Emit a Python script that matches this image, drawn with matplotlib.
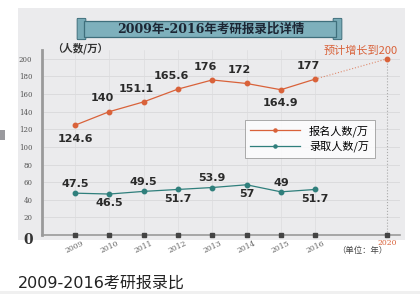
import numpy as np
import matplotlib.pyplot as plt
from matplotlib.patches import FancyBboxPatch, Rectangle

plt.rcParams['font.family'] = ['Noto Sans CJK SC', 'DejaVu Sans']

years = ['2009', '2010', '2011', '2012', '2013', '2014', '2015', '2016']
applicants = [124.6, 140, 151.1, 165.6, 176, 172, 164.9, 177]
admitted = [47.5, 46.5, 49.5, 51.7, 53.9, 57, 49, 51.7]
forecast_year = '2020'
forecast_value = 200
y_ticks = [20, 40, 60, 80, 100, 120, 140, 160, 180, 200]

# label side for each point: 1 above, -1 below
app_side = [-1, 1, 1, 1, 1, 1, -1, 1]
adm_side = [1, -1, 1, -1, 1, -1, 1, -1]

orange = '#d9623a'
teal = '#2f7f7c'

fig = plt.figure(figsize=(4.2, 2.94), dpi=100)
fig.patch.set_facecolor('white')

def px_box(x0, y0, w, h, **kw):
    # rectangle given in pixel coords from top-left of the image
    return Rectangle((x0 / 420, 1 - (y0 + h) / 294), w / 420, h / 294,
                     transform=fig.transFigure, **kw)

# gray panel behind the chart
fig.add_artist(px_box(18, 8, 387, 232, facecolor='#ebebed', edgecolor='none', zorder=0))
# small gray mark at the left edge
fig.add_artist(px_box(0, 130, 5, 10, facecolor='#9a9a9e', edgecolor='none', zorder=0))
# thin line under the caption
fig.add_artist(px_box(0, 291, 420, 3, facecolor='#f0f0f0', edgecolor='none', zorder=0))

# title scroll
for sx in (78, 334):
    fig.add_artist(FancyBboxPatch((sx / 420, 1 - 39 / 294), 7 / 420, 20 / 294,
                                  boxstyle='round,pad=0.002', transform=fig.transFigure,
                                  facecolor='#78aab6', edgecolor='#3f6f7c',
                                  linewidth=0.7, zorder=1))
fig.add_artist(px_box(84, 21, 252, 16, facecolor='#7eb0bc', edgecolor='#3f6f7c',
                      linewidth=0.9, zorder=2))
fig.text(211 / 420, 1 - 29 / 294, '2009年-2016年考研报录比详情', ha='center', va='center',
         fontsize=9, fontweight='bold', color='#1c2634', zorder=3,
         family=['DejaVu Serif', 'Noto Sans CJK SC'])

ax = fig.add_axes([42 / 420, 1 - 235 / 294, 358 / 420, 185 / 294])
ax.set_facecolor('none')
ax.set_zorder(5)

x = np.arange(len(years))
x_fc = 9.1

ax.set_xlim(-0.96, 9.47)
ax.set_ylim(0, 210)

# grid
for t in y_ticks:
    ax.axhline(t, color='#d8d8da', linewidth=0.6, zorder=0)
for xi in x:
    ax.axvline(xi, color='#dcdcde', linewidth=0.5, zorder=0)
ax.plot([x_fc, x_fc], [0, forecast_value], color='#aaaaaa', linestyle=':', linewidth=0.8, zorder=1)

ax.plot(x, applicants, color=orange, linewidth=0.9, marker='o', markersize=3.2,
        label='报名人数/万', zorder=3)
ax.plot([x[-1], x_fc], [applicants[-1], forecast_value], color=orange, linestyle=':',
        linewidth=0.8, alpha=0.7, zorder=2)
ax.plot([x_fc], [forecast_value], marker='o', color=orange, markersize=3.2, zorder=3)
ax.plot(x, admitted, color=teal, linewidth=0.9, marker='o', markersize=3.2,
        label='录取人数/万', zorder=3)

for xi, v, s in zip(x, applicants, app_side):
    ax.annotate(f'{v:g}', (xi, v), xytext=(-5 if s > 0 else 0, 6 * s), textcoords='offset points',
                ha='center', va='bottom' if s > 0 else 'top', fontsize=8,
                fontweight='bold', color='#2a2a2a', family='DejaVu Sans')
for xi, v, s in zip(x, admitted, adm_side):
    ax.annotate(f'{v:g}', (xi, v), xytext=(0, 3 * s), textcoords='offset points',
                ha='center', va='bottom' if s > 0 else 'top', fontsize=8,
                fontweight='bold', color='#2a2a2a', family='DejaVu Sans')

ax.text(x_fc + 0.3, 203, '预计增长到200', ha='right', va='bottom', fontsize=8,
        color=orange)

# axes styling
for sp in ['top', 'right']:
    ax.spines[sp].set_visible(False)
ax.spines['left'].set_color('#9a9a9a')
ax.spines['left'].set_linewidth(2)
ax.spines['bottom'].set_color('#9a9a9a')
ax.spines['bottom'].set_linewidth(1.2)

ax.set_yticks(y_ticks)
ax.set_yticklabels([str(t) for t in y_ticks], fontsize=5, color='#555555',
                   family='DejaVu Serif')
ax.tick_params(axis='y', length=0, pad=7)

ax.set_xticks(list(x) + [x_fc])
labels = ax.set_xticklabels(years + [forecast_year], fontsize=5.5, color='#666666',
                            family='DejaVu Serif')
for lab in labels[:-1]:
    lab.set_rotation(25)
    lab.set_ha('center')
labels[-1].set_color(orange)
ax.tick_params(axis='x', length=0, pad=3)
ax.plot(list(x) + [x_fc], [0] * (len(x) + 1), linestyle='none', marker='s',
        markersize=2.5, color='#444444', clip_on=False, zorder=4)

fig.text(28 / 420, 1 - 240 / 294, '0', ha='center', va='center', fontsize=10,
         fontweight='bold', color='#333333', family='DejaVu Serif', zorder=6)
fig.text(80 / 420, 1 - 48 / 294, '（人数/万）', ha='center', va='center', fontsize=7.5,
         fontweight='bold', color='#333333', zorder=6)
fig.text(362 / 420, 1 - 251 / 294, '（单位：年）', ha='center', va='center', fontsize=6,
         color='#444444', zorder=6)

leg = ax.legend(loc='upper left', bbox_to_anchor=((239 - 42) / 358, 1 - (114 - 50) / 185),
                fontsize=8, frameon=True, fancybox=False, handlelength=4.5,
                borderpad=0.5, labelspacing=0.35, markerscale=0.7)
leg.get_frame().set_edgecolor('#888888')
leg.get_frame().set_linewidth(0.6)
leg.get_frame().set_facecolor('white')

fig.text(18 / 420, 1 - 283 / 294, '2009-2016考研报录比', ha='left', va='center',
         fontsize=11.5, color='#222222', zorder=6,
         family=['DejaVu Sans', 'Noto Sans CJK SC'])

fig.savefig('out.png', dpi=100)
